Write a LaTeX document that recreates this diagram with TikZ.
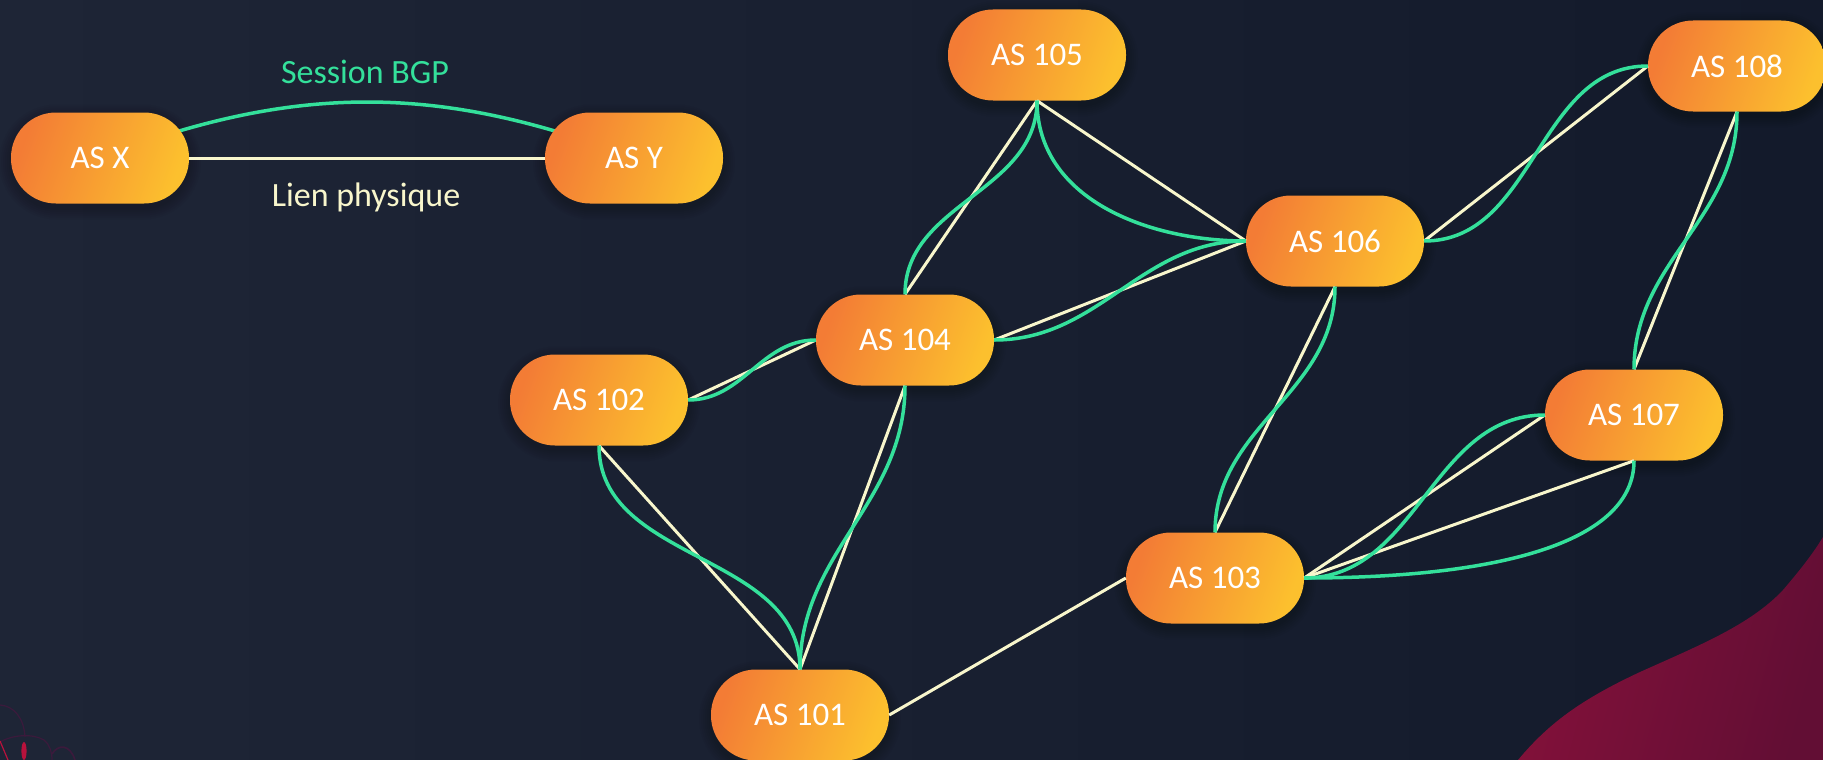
\documentclass[tikz,border=0pt]{standalone}
\usepackage{fontspec}
\setmainfont{Carlito}

\definecolor{bgleft}{HTML}{1E2536}
\definecolor{bgright}{HTML}{131A2B}
\definecolor{asorange}{HTML}{F37C35}
\definecolor{asyellow}{HTML}{FCC02E}
\definecolor{physcol}{HTML}{F8F6CC}
\definecolor{bgpcol}{HTML}{34E09B}
\definecolor{blobleft}{HTML}{84113A}
\definecolor{blobright}{HTML}{620E34}
\definecolor{doodledark}{HTML}{3B1A3C}
\definecolor{doodlered}{HTML}{B8123C}

\begin{document}
\begin{tikzpicture}[x=1pt,y=1pt,
  asnode/.style={rectangle, rounded corners=45pt, minimum width=178pt,
    minimum height=91pt, inner sep=0pt, left color=asorange,
    right color=asyellow, shading angle=70, text=white,
    font=\fontsize{33}{33}\selectfont},
  phys/.style={draw=physcol, line width=3pt},
  bgp/.style={draw=bgpcol, line width=3.5pt},
  lbl/.style={anchor=base, font=\fontsize{34}{34}\selectfont},
]
\useasboundingbox (0,0) rectangle (1823,-760);

% dark gradient, crimson wave and small doodle
\shade[left color=bgleft, right color=bgright] (0,0) rectangle (1823,-760);
\shade[left color=blobleft, right color=blobright, shading angle=75]
  (1518,-760) .. controls (1548,-724) and (1580,-700) .. (1640,-672)
  .. controls (1700,-645) and (1750,-625) .. (1783,-590)
  .. controls (1800,-570) and (1812,-555) .. (1823,-537)
  -- (1823,-760) -- cycle;
\draw[doodledark, line width=1.2pt]
  (0,-705) .. controls (14,-706) and (24,-718) .. (25,-737);
\draw[doodledark, line width=1.2pt]
  (0,-742) .. controls (12,-735) and (32,-733) .. (44,-740)
  .. controls (50,-745) and (52,-752) .. (52,-760);
\draw[doodledark, line width=1.6pt]
  (52,-754) .. controls (58,-744) and (70,-744) .. (75,-760);
\draw[doodlered, line width=1.2pt] (0,-741) -- (8,-760);
\fill[doodlered] (24,-751) ellipse (2.6pt and 9pt);

% positions of the autonomous systems
\coordinate (px)   at (100,-158);
\coordinate (py)   at (634,-158);
\coordinate (p105) at (1037,-55);
\coordinate (p108) at (1737,-66);
\coordinate (p106) at (1335,-241);
\coordinate (p104) at (905,-340);
\coordinate (p102) at (599,-400);
\coordinate (p107) at (1634,-415);
\coordinate (p103) at (1215,-578);
\coordinate (p101) at (800,-715);

% soft shadows under the boxes
\foreach \p in {px,py,p105,p108,p106,p104,p102,p107,p103,p101}{
  \foreach \k in {2,4,...,12}{
    \fill[black, opacity=0.032, rounded corners={(45.5+\k)*1pt}, shift={(\p)}]
      (-89-\k,-49.5-\k) rectangle (89+\k,41.5+\k);
  }
}

% legend link, drawn under the boxes
\draw[phys] (px) -- (py);
\draw[bgp] (px) to[out=21,in=159] (py);

% autonomous systems
\node[asnode] (asx)  at (px)   {AS X};
\node[asnode] (asy)  at (py)   {AS Y};
\node[asnode] (a105) at (p105) {AS 105};
\node[asnode] (a108) at (p108) {AS 108};
\node[asnode] (a106) at (p106) {AS 106};
\node[asnode] (a104) at (p104) {AS 104};
\node[asnode] (a102) at (p102) {AS 102};
\node[asnode] (a107) at (p107) {AS 107};
\node[asnode] (a103) at (p103) {AS 103};
\node[asnode] (a101) at (p101) {AS 101};

% legend labels
\node[lbl, text=bgpcol] (lblbgp) at (365,-83) {Session BGP};
\node[lbl, text=physcol] (lblphys) at (366,-206) {Lien physique};

% physical links
\draw[phys] (a105.south) -- (a104.north);
\draw[phys] (a105.south) -- (a106.west);
\draw[phys] (a104.east) -- (a106.west);
\draw[phys] (a104.west) -- (a102.east);
\draw[phys] (a104.south) -- (a101.north);
\draw[phys] (a102.south) -- (a101.north);
\draw[phys] (a101.east) -- (a103.west);
\draw[phys] (a106.south) -- (a103.north);
\draw[phys] (a106.east) -- (a108.west);
\draw[phys] (a108.south) -- (a107.north);
\draw[phys] (a103.east) -- (a107.west);
\draw[phys] (a103.east) -- (a107.south);

% BGP sessions
\draw[bgp] (a105.south) to[out=-90,in=90] (a104.north);
\draw[bgp] (a105.south) to[out=-90,in=180] (a106.west);
\draw[bgp] (a104.east) to[out=0,in=180] (a106.west);
\draw[bgp] (a102.east) to[out=0,in=180] (a104.west);
\draw[bgp] (a102.south) to[out=-90,in=90] (a101.north);
\draw[bgp] (a104.south) to[out=-90,in=90] (a101.north);
\draw[bgp] (a106.south) to[out=-90,in=90] (a103.north);
\draw[bgp] (a106.east) to[out=0,in=180] (a108.west);
\draw[bgp] (a108.south) to[out=-90,in=90] (a107.north);
\draw[bgp] (a103.east) to[out=0,in=180] (a107.west);
\draw[bgp] (a103.east) .. controls +(200,0) and +(0,-80) .. (a107.south);
\end{tikzpicture}
\end{document}
